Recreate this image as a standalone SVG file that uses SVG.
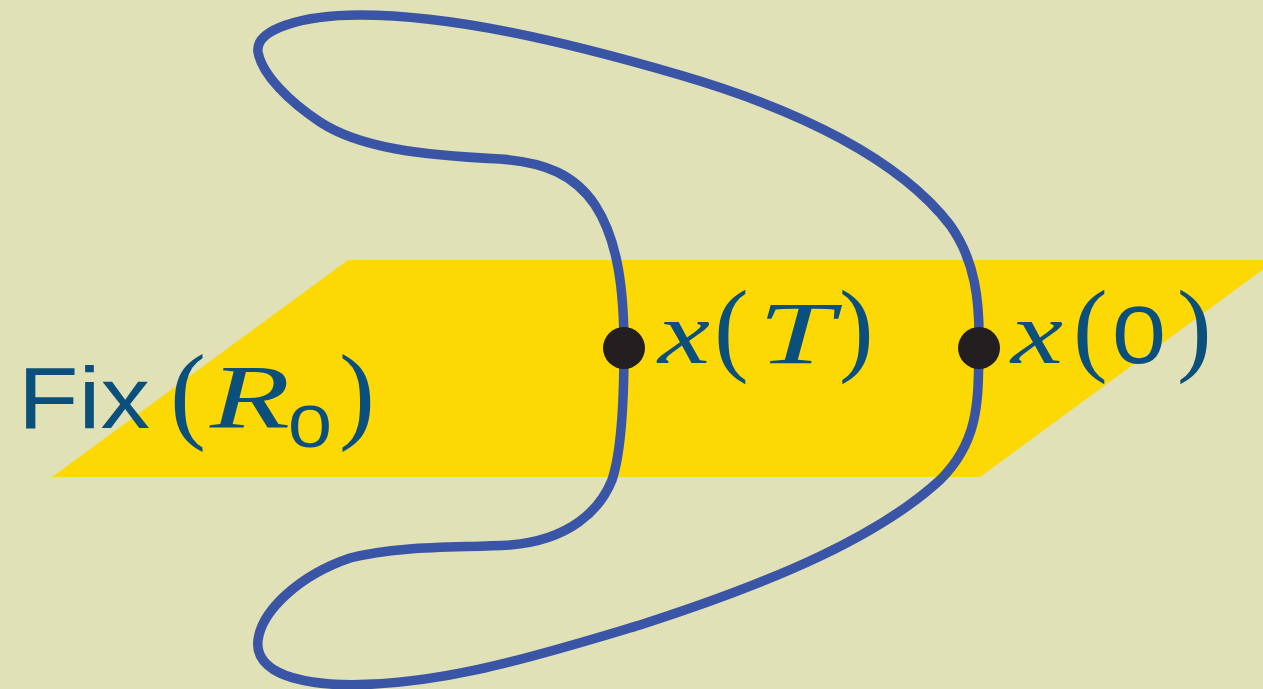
<svg xmlns="http://www.w3.org/2000/svg" width="1263" height="689" viewBox="0 0 1263 689">
<style>
text{fill:#0B4F7C}
.it{font-family:"Liberation Serif",serif;font-style:italic;font-size:88px}
.rm{font-family:"Liberation Serif",serif;font-size:104px}
.sf{font-family:"Liberation Sans",sans-serif;font-size:88px}
</style>
<rect width="1263" height="689" fill="#E1E1B8"/>
<g id="plane"><polygon points="52,477 348,260 1276,260 980,477" fill="#FCD804"/></g>
<g id="connectors">
<path d="M 624 348 C 624 290, 618 240, 595 205 C 575 175, 545 162, 500 159 C 420 155, 360 148, 320 122 C 290 102, 262 75, 258 52 C 255 30, 300 15, 360 15 C 450 15, 560 40, 680 75 C 800 110, 900 160, 950 225 C 975 260, 980 300, 979 348 C 978 400, 980 440, 940 480 C 880 535, 780 580, 640 625 C 540 655, 430 690, 330 684 C 280 680, 255 665, 258 640 C 262 610, 300 575, 350 558 C 400 545, 460 548, 510 545 C 570 540, 600 510, 612 480 C 622 450, 624 400, 624 348 Z" fill="none" stroke="#3A55A5" stroke-width="9.5"/>
</g>
<g id="xT">
<circle cx="624" cy="348" r="21" fill="#231F20"/>
<text class="it" x="658" y="363" textLength="52" lengthAdjust="spacingAndGlyphs">x</text>
<text class="rm" x="714" y="362">(</text>
<text class="it" x="758" y="363" textLength="76" lengthAdjust="spacingAndGlyphs">T</text>
<text class="rm" x="839" y="362">)</text>
</g>
<g id="x0">
<circle cx="979" cy="348" r="21" fill="#231F20"/>
<text class="it" x="1011" y="363" textLength="52" lengthAdjust="spacingAndGlyphs">x</text>
<text class="rm" x="1073" y="362">(</text>
<text class="sf" x="1112" y="363" textLength="54" lengthAdjust="spacingAndGlyphs" style="font-size:82px">0</text>
<text class="rm" x="1177" y="362">)</text>
</g>
<g id="fix">
<text class="sf" x="18" y="428" textLength="132" lengthAdjust="spacingAndGlyphs">Fix</text>
<text class="rm" x="170" y="429" style="font-size:108px">(</text>
<text class="it" x="210" y="428" textLength="80" lengthAdjust="spacingAndGlyphs" style="font-size:92px">R</text>
<text class="sf" x="288" y="447" textLength="44" lengthAdjust="spacingAndGlyphs" style="font-size:59px">0</text>
<text class="rm" x="339" y="429" style="font-size:108px">)</text>
</g>
</svg>
